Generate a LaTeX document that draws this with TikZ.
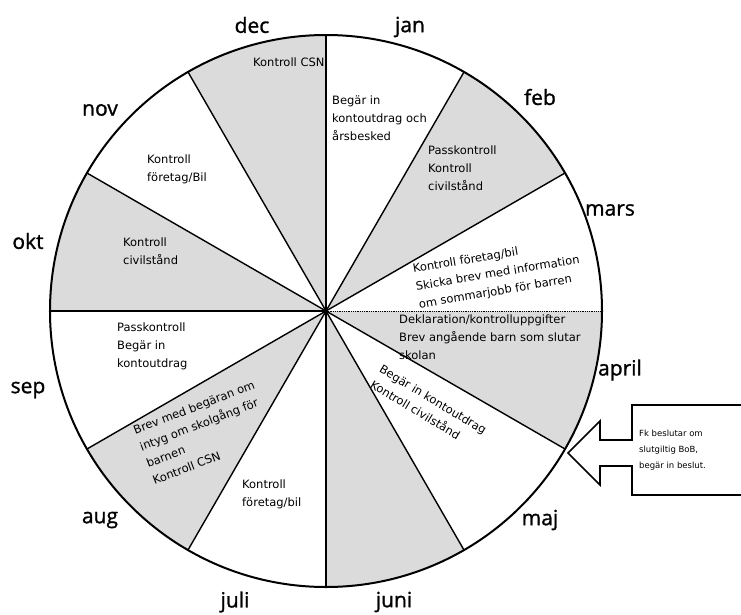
\documentclass[tikz,border=0pt]{standalone}
\usepackage{fontspec}
\setmainfont{DejaVu Sans}
\newfontfamily\monthfont[FakeBold=1.2]{Open Sans}
\begin{document}
\begin{tikzpicture}[x=1pt,y=1pt,
    month/.style={font=\monthfont\fontsize{21}{21}\selectfont,inner sep=0pt},
    note/.style={font=\fontsize{11.5}{18}\selectfont,align=left,anchor=north west,inner sep=0pt},
    shaded/.style={fill=black!14},
    spoke/.style={line width=1.4pt}]
  \useasboundingbox (-326,-303) rectangle (415,311);
  % shaded sectors
  \foreach \a in {90,30,-30,-90,-150,150}
    \fill[shaded] (0,0) -- (\a:276) arc[start angle=\a,delta angle=30,radius=276] -- cycle;
  \coordinate (hub) at (0,0);
  \foreach \a in {30,60,...,330}
    \draw[spoke] (hub) -- (\a:276);
  \draw[densely dotted,thick] (hub) -- (0:276);
  \draw[line width=2pt] (hub) circle[radius=276];
  % months
  \node[month] (jan) at (84,284) {jan};
  \node[month] (feb) at (214,214) {feb};
  \node[month] (mars) at (284,101) {mars};
  \node[month] (april) at (294,-59) {april};
  \node[month] (maj) at (214,-209) {maj};
  \node[month] (juni) at (68,-291) {juni};
  \node[month] (juli) at (-91,-291) {juli};
  \node[month] (aug) at (-226,-209) {aug};
  \node[month] (sep) at (-298,-79) {sep};
  \node[month] (okt) at (-298,70) {okt};
  \node[month] (nov) at (-226,201) {nov};
  \node[month] (dec) at (-74,286) {dec};
  % tasks
  \node[note] (t-dec) at (-73,253) {Kontroll CSN};
  \node[note] (t-jan) at (6,215) {Begär in\\kontoutdrag och\\årsbesked};
  \node[note] (t-feb) at (102,165) {Passkontroll\\Kontroll\\civilstånd};
  \node[note,rotate=9.5] (t-mars) at (86,47) {Kontroll företag/bil\\Skicka brev med information\\om sommarjobb för barren};
  \node[note] (t-april) at (73,-4) {Deklaration/kontrolluppgifter\\Brev angående barn som slutar\\skolan};
  \node[note,rotate=-31] (t-maj) at (57,-53) {Begär in kontoutdrag\\Kontroll civilstånd};
  \node[note] (t-juli) at (-84,-169) {Kontroll\\företag/bil};
  \node[note,rotate=21] (t-aug) at (-194,-115) {Brev med begäran om\\intyg om skolgång för\\barnen\\Kontroll CSN};
  \node[note] (t-sep) at (-209,-12) {Passkontroll\\Begär in\\kontoutdrag};
  \node[note] (t-okt) at (-203,73) {Kontroll\\civilstånd};
  \node[note] (t-nov) at (-179,156) {Kontroll\\företag/Bil};
  % decision box and arrow
  \draw[line width=1.6pt]
    (242,-142) -- (274,-110) -- (274,-129) -- (306,-129) -- (306,-94) -- (425,-94)
    -- (425,-184) -- (306,-184) -- (306,-155) -- (274,-155) -- (274,-174) -- cycle;
  \node[font=\fontsize{8.5}{16}\selectfont,align=left,anchor=north west,inner sep=0pt] (beslut) at (313,-119)
    {Fk beslutar om\\slutgiltig BoB,\\begär in beslut.};
\end{tikzpicture}
\end{document}
